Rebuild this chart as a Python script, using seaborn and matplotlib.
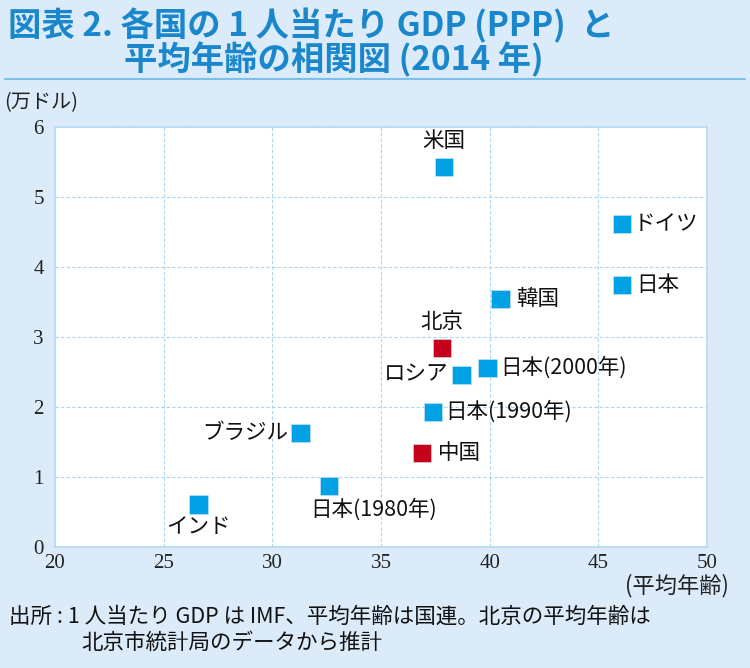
import matplotlib
matplotlib.use("Agg")
import matplotlib.pyplot as plt
import seaborn as sns
import pandas as pd

# ---------------- data ----------------
names = ["米国", "ドイツ", "日本", "韓国", "北京", "日本(2000年)", "ロシア",
         "日本(1990年)", "ブラジル", "中国", "日本(1980年)", "インド"]
median_age = [37.9, 46.1, 46.1, 40.5, 37.8, 39.9, 38.7, 37.4, 31.3, 36.9, 32.6, 26.6]
gdp_ppp = [5.43, 4.61, 3.74, 3.54, 2.84, 2.56, 2.46, 1.93, 1.63, 1.34, 0.87, 0.61]
group = ["他", "他", "他", "他", "中国", "他", "他", "他", "他", "中国", "他", "他"]

x_ticks = [20, 25, 30, 35, 40, 45, 50]
y_ticks = [0, 1, 2, 3, 4, 5, 6]

df = pd.DataFrame({"name": names, "age": median_age, "gdp": gdp_ppp, "group": group})

# label placement: (dx, dy) in points, ha
label_pos = {
    "米国": (0, 19, "center"),
    "ドイツ": (8, 0, "left"),
    "日本": (10, 0, "left"),
    "韓国": (11, 0, "left"),
    "北京": (0, 19, "center"),
    "日本(2000年)": (9, 0, "left"),
    "ロシア": (-9, 0, "right"),
    "日本(1990年)": (9, 0, "left"),
    "ブラジル": (-9, 0, "right"),
    "中国": (11, 0, "left"),
    "日本(1980年)": (32, -17, "center"),
    "インド": (0, -16, "center"),
}

BG = "#dbebf9"
BLUE = "#00a0e4"
RED = "#c4001c"
TITLE_C = "#1a86cc"
GRID_C = "#aad4f2"

sns.set_theme(style="white")
plt.rcParams["font.family"] = ["Noto Sans CJK JP", "DejaVu Sans"]

fig = plt.figure(figsize=(7.5, 6.68), dpi=100, facecolor=BG)
ax = fig.add_axes([0.0733, 0.1811, 0.8694, 0.6288])
ax.set_facecolor("white")

sns.scatterplot(data=df, x="age", y="gdp", hue="group",
                palette={"他": BLUE, "中国": RED}, marker="s", s=175,
                edgecolor="#cfe8f8", linewidth=0.4, legend=False, ax=ax, zorder=3)

for _, r in df.iterrows():
    dx, dy, ha = label_pos[r["name"]]
    ax.annotate(r["name"], (r["age"], r["gdp"]), xytext=(dx, dy),
                textcoords="offset points", ha=ha, va="center",
                fontsize=15.5, color="#111111", zorder=4)

ax.set_xlim(20, 50)
ax.set_ylim(0, 6)
ax.set_xticks(x_ticks)
ax.set_yticks(y_ticks)
ax.set_xticklabels([str(v) for v in x_ticks], family="Liberation Serif", fontsize=15, color="#222222")
ax.set_yticklabels([str(v) for v in y_ticks], family="Liberation Serif", fontsize=15, color="#222222")
ax.tick_params(axis="x", length=0, pad=5)
ax.tick_params(axis="y", length=0, pad=8)
ax.set_xlabel("")
ax.set_ylabel("")
ax.grid(True, color=GRID_C, linestyle=(0, (3, 2)), linewidth=0.8)
for sp in ax.spines.values():
    sp.set_color("#b6dbf5")
    sp.set_linewidth(1.2)

# titles and notes
fig.text(0.010, 0.962, "図表 2. 各国の 1 人当たり GDP (PPP)  と", fontsize=24,
         weight="bold", color=TITLE_C, va="center")
fig.text(0.165, 0.911, "平均年齢の相関図 (2014 年)", fontsize=24,
         weight="bold", color=TITLE_C, va="center")
fig.add_artist(plt.Line2D([0.007, 0.993], [0.882, 0.882], color="#7cbfe9", linewidth=1.5))

fig.text(0.006, 0.846, "(万ドル)", fontsize=14.5, color="#222222", va="center")
fig.text(0.972, 0.124, "(平均年齢)", fontsize=16, color="#222222", va="center", ha="right")

fig.text(0.012, 0.076, "出所 : 1 人当たり GDP は IMF、平均年齢は国連。北京の平均年齢は",
         fontsize=15.5, color="#111111", va="center")
fig.text(0.108, 0.038, "北京市統計局のデータから推計",
         fontsize=15.5, color="#111111", va="center")

fig.savefig("out.png", dpi=100, facecolor=BG)
